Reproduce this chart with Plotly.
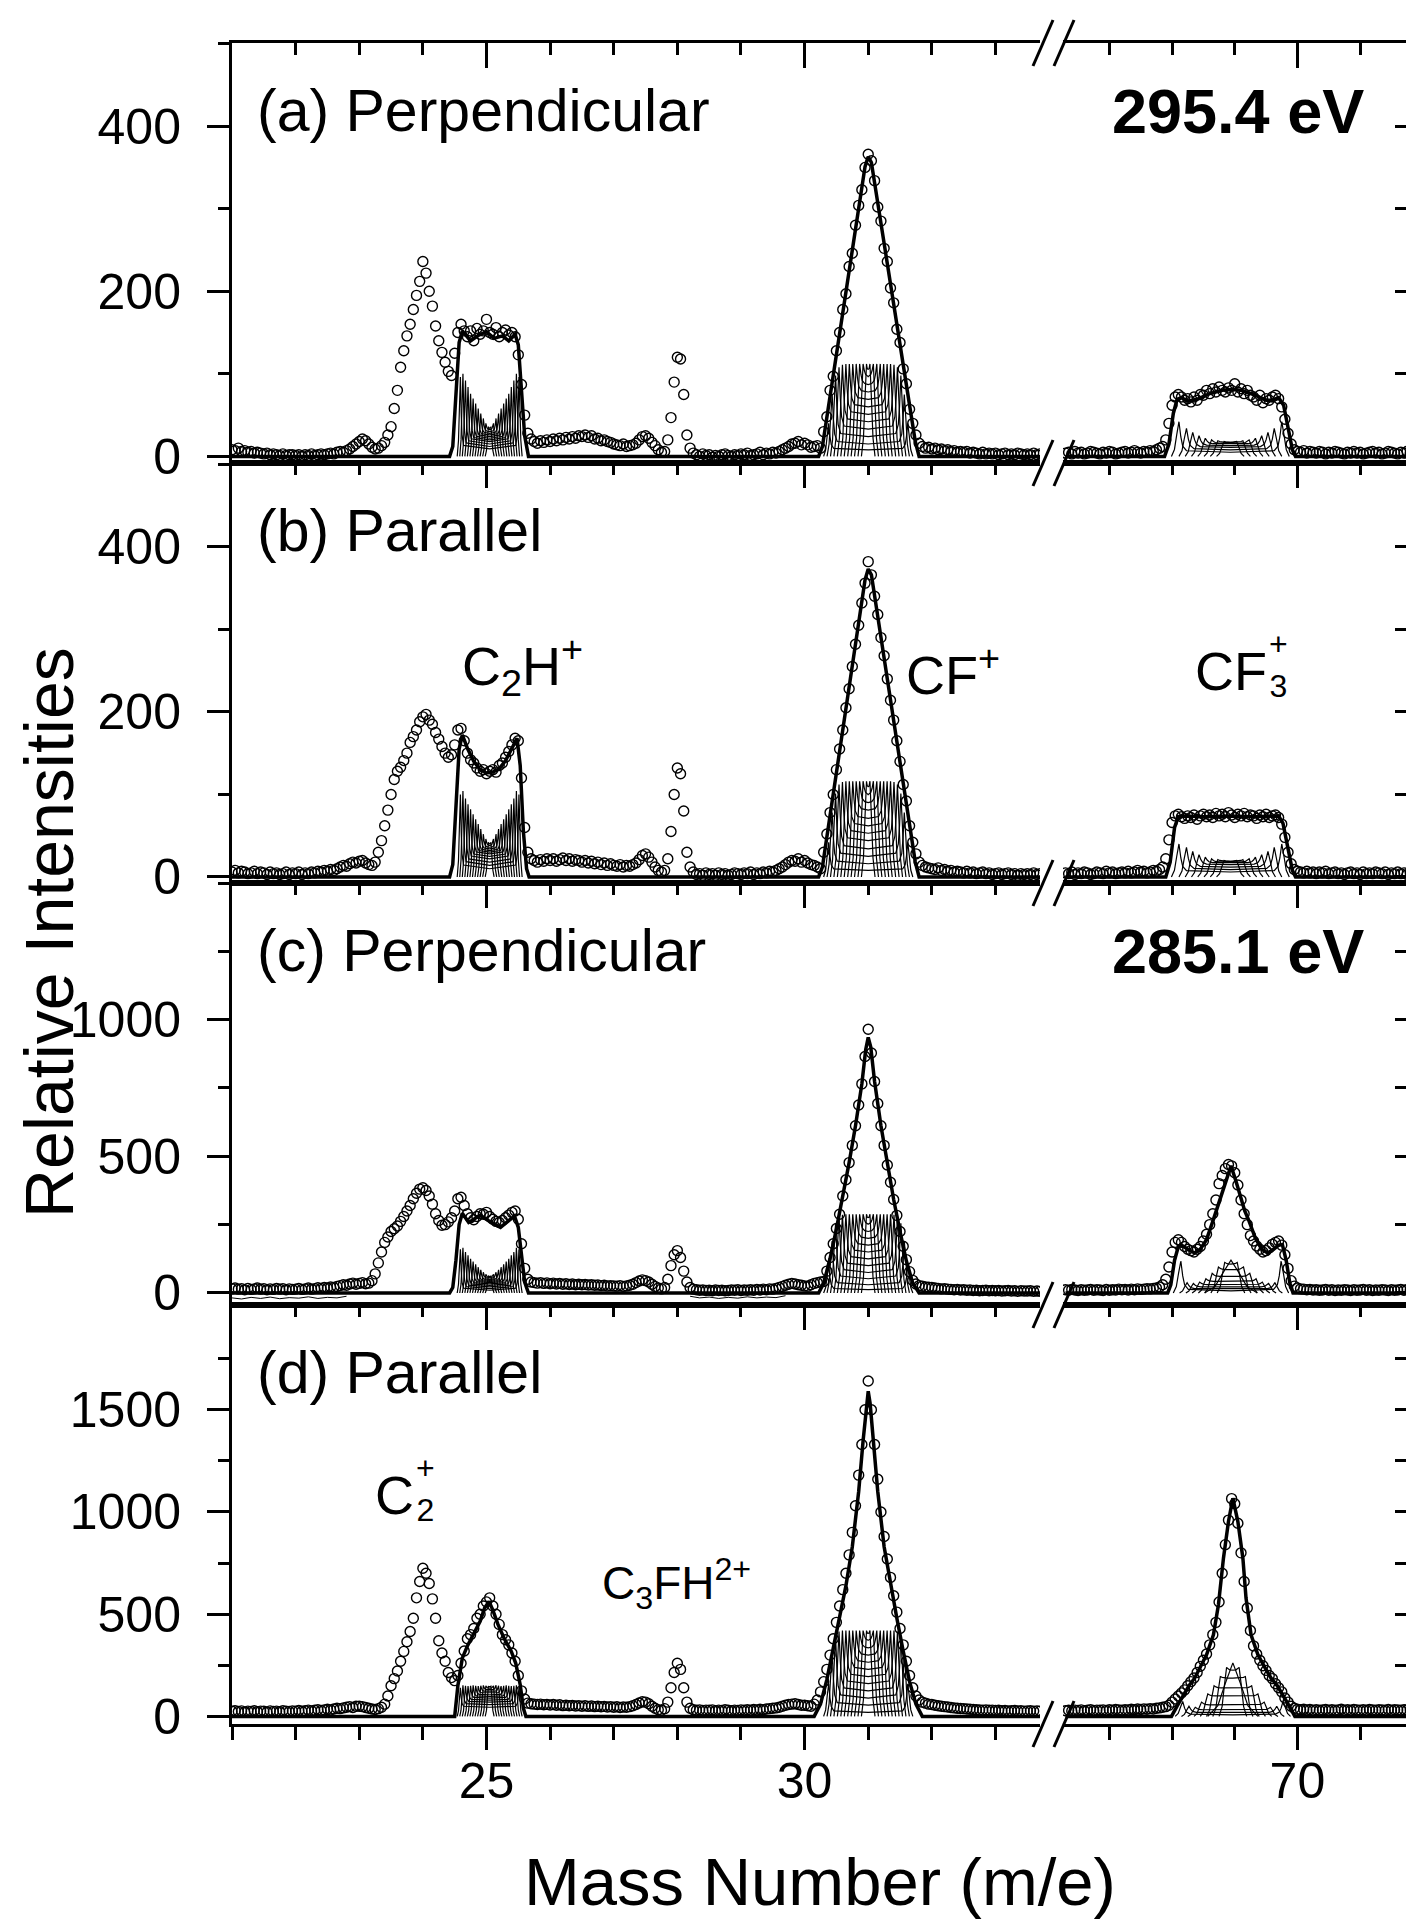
import numpy as np
import plotly.graph_objects as go

FONT = "Liberation Sans, Arial, sans-serif"

# ---------------- sampling grid (mass axis of the measured spectra) ----------------
left_start, right_start, step = 21.0, 66.30, 0.05

# ---------------- measured spectra (open circles) ----------------
a_left = [8,7,10,6,7,5,6,4,5,4, 3,4,2,3,2,1,3,1,2,2, 1,2,0,2,1,3,1,2,3,2, 3,4,3,5,6,5,7,9,12,15,
          18,21,19,15,11,9,10,13,17,26, 36,58,80,108,128,146,160,178,195,212, 236,222,200,182,158,140,126,114,103,98,
          125,150,160,152,145,152,140,155,148,152, 166,150,148,156,145,150,153,147,150,145, 123,87,50,28,21,18,16,19,17,20,
          18,21,19,22,20,23,21,24,22,25, 24,26,23,25,21,22,19,20,18,17, 15,14,13,15,12,13,14,16,20,24,
          25,22,17,13,8,5,6,20,47,90, 120,118,75,26,10,4,2,0,3,1, 2,-1,1,0,2,3,1,0,2,1, 3,2,4,1,2,3,5,2,4,3,
          5,4,6,8,10,12,15,16,18,14, 16,14,11,12,13,10,30,48,80,97, 128,150,178,197,230,246,280,304,323,350,
          366,358,334,302,285,252,236,204,186,154, 138,106,88,57,40,26,16,12,10,11, 9,10,8,9,7,8,6,7,5,6,
          5,6,4,5,4,3,5,3,4,3, 4,2,3,4,2,3,2,4,3,2, 3,2,4,2,3]
a_right = [4,5,3,6,4,5,3,4,6,5, 4,3,5,4,6,5,3,4,5,6, 4,5,7,5,4,6,5,7,6,8, 10,12,20,40,62,72,75,72,68,70,
           66,72,68,75,74,80,76,82,78,84, 80,78,83,80,88,78,82,76,80,74, 72,68,74,65,70,68,72,74,70,60,
           45,28,15,8,6,5,7,4,6,5, 4,6,5,3,5,4,6,5,4,3, 5,4,6,4,5,3,4,5,6,4, 5,3,4,6,5,4,3,5,4,6, 4,5]

b_left = [6,8,5,7,6,4,5,7,4,6, 5,3,6,4,5,3,4,6,3,5, 4,6,3,5,4,6,5,7,6,8, 7,9,8,10,12,14,13,16,18,17,
          19,20,17,15,14,18,30,44,62,81, 100,118,128,133,141,150,163,170,178,188, 194,197,190,185,175,167,158,150,145,148,
          160,178,180,165,150,142,138,132,128,130, 125,128,130,127,135,138,145,152,160,168, 165,120,60,30,22,20,18,21,19,22,
          20,22,19,21,23,20,22,19,21,20, 18,20,17,19,16,18,15,17,14,16, 14,13,15,12,14,13,15,17,21,26,
          28,24,18,12,8,6,8,22,55,100, 132,125,80,30,12,6,3,4,2,5, 3,4,2,5,3,4,2,3,5,4, 3,5,4,6,3,5,4,6,5,7,
          6,8,10,12,15,18,20,19,22,18, 20,17,15,14,12,10,30,52,78,100, 130,155,178,205,228,255,282,305,332,356,
          382,366,340,318,290,268,240,214,190,165, 140,112,92,62,42,28,18,14,12,11, 10,9,11,8,9,7,8,6,7,6,
          5,7,5,6,4,5,6,4,5,3, 4,5,3,4,5,3,4,2,4,3, 4,3,5,3,4]
b_right = [5,4,6,3,5,4,6,5,3,4, 6,5,4,7,5,6,4,5,6,5, 7,5,6,8,6,7,5,6,8,7, 9,12,22,45,66,74,76,73,71,74,
           72,75,70,74,76,73,75,72,77,74, 76,73,78,75,72,76,74,77,73,75, 74,71,75,73,76,72,74,75,72,64,
           48,30,16,9,7,6,5,7,5,6, 4,6,5,7,4,5,6,4,5,3, 5,6,4,5,3,6,4,5,4,6, 5,4,6,3,5,4,6,4,5,3, 5,4]

c_left = [15,18,14,16,12,17,13,15,18,14, 16,12,15,13,17,14,16,12,15,13, 14,17,13,15,18,14,16,19,17,20, 18,22,20,24,27,30,28,33,36,32,
          35,38,34,36,45,70,110,150,185,205, 225,235,245,262,280,300,320,345,365,380, 385,375,355,325,290,265,248,250,260,275,
          300,345,350,320,290,275,268,280,290,288, 295,280,270,262,258,265,275,285,295,300, 270,180,90,50,40,38,36,38,35,37,
          34,36,33,35,32,34,31,33,30,32, 30,31,29,30,28,29,27,28,26,27, 26,25,27,24,26,28,32,38,44,48,
          45,40,32,24,18,15,20,50,100,140, 155,130,80,40,20,14,12,10,11,9, 10,8,11,9,10,8,9,11,10,12, 9,11,10,12,10,13,11,14,12,15,
          14,17,20,24,28,32,35,33,30,28, 26,25,30,35,38,40,42,80,130,180, 236,288,355,414,477,540,612,688,765,865,
          965,878,774,693,612,540,468,405,342,284, 225,171,122,78,46,33,27,25,22,21, 20,18,17,15,16,14,13,12,13,11,
          12,10,11,9,10,8,9,10,8,9, 8,9,7,8,9,7,8,6,8,7, 7,8,6,7,6]
c_right = [12,10,13,11,9,12,10,11,13,10, 12,11,9,13,10,12,11,14,12,13, 11,14,12,15,13,14,16,15,17,18, 22,30,50,95,150,185,195,185,170,160,
           155,150,160,170,190,215,250,290,340,400, 430,455,470,465,440,395,340,290,250,210, 190,172,160,150,155,165,178,185,190,175,
           140,90,45,25,18,15,14,12,13,11, 12,10,11,13,10,12,9,11,10,12, 11,9,12,10,11,13,10,12,9,11, 10,12,11,9,12,10,11,13,10,12, 11,10]
c_bg_x = [21.0,21.15,21.3,21.45,21.6,21.75,21.9,22.05,22.2,22.35,22.5,22.65,22.8, None,
          28.2,28.35,28.5,28.65,28.8,28.95,29.1,29.25,29.4,29.55,29.7]
c_bg_y = [-18,-22,-16,-20,-15,-21,-17,-19,-14,-20,-16,-18,-12, None,
          -12,-18,-15,-20,-16,-19,-14,-18,-15,-17,-10]

d_left = [25,28,24,27,22,26,24,28,23,26, 25,22,27,24,26,23,28,25,24,27, 26,29,25,28,31,27,30,33,29,32, 35,32,36,40,38,42,45,48,44,50,
          50,48,44,40,36,34,38,45,60,100, 150,185,222,270,318,365,415,480,580,660, 725,700,650,575,480,370,310,270,215,190,
          175,200,260,320,380,400,430,480,500,540, 560,580,540,500,450,400,375,350,310,270, 200,125,85,65,62,60,58,60,57,59,
          56,58,55,57,53,55,52,54,51,53, 50,52,49,51,48,50,47,49,46,48, 45,47,44,46,45,48,52,58,66,72,
          70,62,50,40,33,30,38,70,140,215, 260,230,140,70,40,33,30,32,29,31, 30,32,28,31,29,33,30,28,31,29, 32,30,33,31,34,32,35,33,36,38,
          40,42,45,50,55,58,60,62,58,55, 55,52,50,60,80,120,170,230,300,380, 460,540,620,700,790,900,1030,1180,1330,1500,
          1640,1500,1330,1160,1000,880,770,680,590,510, 430,350,270,200,140,100,80,70,65,60, 58,55,52,50,48,46,44,42,40,39,
          38,36,35,34,33,32,31,32,30,31, 29,30,28,29,27,28,29,27,28,26, 27,28,26,27,26]
d_right = [28,30,27,31,29,32,28,30,33,29, 31,30,32,29,33,31,34,32,30,33, 32,35,33,36,34,37,35,38,36,40, 42,45,48,55,70,85,100,115,130,150,
           170,188,215,245,275,305,350,400,460,560, 700,840,960,1065,1040,945,800,660,530,420, 345,305,275,248,225,200,185,160,140,120,
           90,70,50,40,35,33,35,32,34,31, 33,30,32,34,31,33,30,32,35,31, 33,30,34,32,31,33,30,34,32,31, 33,32,30,34,31,33,32,30,33,31, 32,30]

# ---------------- fitted envelopes (thick lines) ----------------
a_fitL_x = [21.0,24.42,24.47,24.52,24.57,24.62,24.75,24.88,25.0,25.12,25.25,25.35,25.45,25.5,25.55,25.6,25.66,30.22,30.28,30.95,31.0,31.05,31.74,31.8,33.7]
a_fitL_y = [0,0,12,70,138,152,140,147,151,143,146,140,148,135,80,25,0,0,12,351,363,356,18,0,0]
a_fitR_x = [66.3,67.88,67.95,68.02,68.08,68.15,68.25,68.4,68.6,68.8,68.95,69.1,69.3,69.5,69.6,69.7,69.78,69.85,69.92,69.97,71.86]
a_fitR_y = [0,0,15,52,69,71,67,69,76,80,81,80,75,68,68,71,62,32,8,0,0]

b_fitL_x = [21.0,24.42,24.47,24.52,24.57,24.62,24.7,24.8,24.9,25.0,25.1,25.2,25.3,25.4,25.48,25.53,25.58,25.63,25.67,30.22,30.28,30.95,31.0,31.05,31.74,31.8,33.7]
b_fitL_y = [0,0,15,80,155,172,156,140,130,126,127,131,141,156,168,135,55,10,0,0,12,360,373,366,18,0,0]
b_fitR_x = [66.3,67.9,67.97,68.04,68.1,68.2,68.5,68.9,69.3,69.6,69.7,69.77,69.85,69.92,69.97,71.86]
b_fitR_y = [0,0,18,60,73,74,73,74,73,74,74,65,33,8,0,0]

c_fitL_x = [21.0,24.42,24.47,24.52,24.57,24.62,24.72,24.9,25.05,25.22,25.35,25.44,25.5,25.55,25.6,25.66,
            30.22,30.3,30.4,30.5,30.6,30.7,30.8,30.9,30.96,31.0,31.04,31.1,31.2,31.3,31.4,31.5,31.6,31.7,31.8,33.7]
c_fitL_y = [0,0,20,120,250,292,258,284,262,240,265,282,240,130,40,0,
            0,36,126,234,351,477,612,765,890,935,900,774,612,468,342,225,117,36,0,0]
c_fitR_x = [66.3,67.93,67.98,68.04,68.1,68.14,68.25,68.36,68.45,68.55,68.65,68.72,68.78,68.86,68.94,69.02,69.1,69.16,69.23,69.33,69.43,69.53,69.62,69.7,69.76,69.82,69.88,69.93,71.86]
c_fitR_y = [0,0,30,120,170,177,160,146,160,195,262,310,348,409,465,409,348,300,262,200,160,146,160,175,177,120,35,0,0]

d_fitL_x = [21.0,24.5,24.55,24.62,24.7,24.76,24.83,24.9,24.97,25.04,25.1,25.18,25.28,25.39,25.46,25.53,25.58,25.62,
            30.15,30.25,30.35,30.45,30.55,30.65,30.75,30.85,30.92,30.97,31.0,31.03,31.08,31.15,31.25,31.35,31.45,31.55,31.65,31.75,31.85,33.7]
d_fitL_y = [0,0,150,285,345,383,430,465,530,562,520,450,380,318,260,155,40,0,
            0,60,180,330,480,640,830,1100,1350,1530,1590,1530,1350,1100,830,650,480,320,170,60,0,0]
d_fitR_x = [66.3,67.99,68.08,68.18,68.27,68.36,68.45,68.55,68.66,68.74,68.82,68.9,68.97,69.05,69.13,69.18,69.26,69.37,69.48,69.58,69.68,69.77,69.87,69.96,71.86]
d_fitR_y = [0,0,50,106,150,187,240,301,399,546,774,953,1067,953,774,579,399,301,240,187,150,106,50,0,0]

# ---------------- fit components (thin lines): centre, widths, half-separations, horn and middle heights ----------------
D12 = [0.02,0.06,0.10,0.14,0.18,0.22,0.26,0.30,0.34,0.38,0.42,0.46]
DCF = [0.027,0.081,0.135,0.189,0.243,0.297,0.351,0.405,0.459,0.513,0.567,0.621]
D8 = [0.1,0.2,0.3,0.4,0.5,0.6,0.7,0.82]
D9 = [0.0,0.1,0.2,0.3,0.4,0.5,0.6,0.7,0.8]

a_c2h = dict(c=25.05, w=0.05, d=D12, h=[36,40,46,52,58,64,70,76,84,92,100,96], m=[34,32,30,28,26,24,22,20,18,15,12,9])
a_cf = dict(c=31.0, w=0.08, d=DCF, h=[112,112,112,112,112,112,112,111,108,98,75,40], m=[105,96,87,78,69,60,51,42,33,24,15,8])
a_cf3 = dict(c=68.93, w=0.12, d=D8, h=[18,19,20,22,25,29,34,42], m=[17,17,16,15,13,11,8,5])

b_c2h = dict(c=25.05, w=0.05, d=D12, h=[42,46,52,58,64,70,76,82,88,95,104,100], m=[40,38,36,34,32,30,28,25,22,18,14,10])
b_cf = dict(c=31.0, w=0.08, d=DCF, h=[116,116,116,116,116,116,116,115,112,101,78,42], m=[109,99,90,81,71,62,53,44,34,25,16,8])
b_cf3 = dict(c=68.93, w=0.12, d=D8, h=[20,21,22,24,27,31,36,40], m=[19,19,18,17,15,12,9,6])

c_c2h = dict(c=25.05, w=0.05, d=D12, h=[62,68,76,85,95,105,115,125,138,150,165,160], m=[60,57,54,50,46,42,38,33,28,22,16,10])
c_cf = dict(c=31.0, w=0.08, d=DCF, h=[288,288,288,288,288,288,288,286,280,255,190,100], m=[275,250,225,200,175,150,125,100,75,52,30,12])
c_cf3 = dict(c=68.94, w=0.12, wd=0.42, d=D9, h=[120,112,95,72,52,40,35,38,117], m=[120,105,85,60,42,30,22,15,8])

d_c2h = dict(c=25.05, w=0.05, d=D12, h=[148,150,152,150,148,150,152,150,148,150,152,140], m=[145,138,130,122,114,106,98,90,80,70,58,45])
d_cf = dict(c=31.0, w=0.08, d=DCF, h=[420,420,420,420,420,420,420,420,415,390,310,160], m=[405,370,335,300,265,230,195,160,125,90,55,20])
d_cf3 = dict(c=68.97, w=0.12, wd=0.4, d=D9, h=[262,240,195,150,110,70,45,50,73], m=[262,225,187,139,100,56,32,18,8])

# ---------------- axis settings ----------------
y_ranges = [[-8, 500.7], [-7.3, 501.5], [-44, 1500], [-37, 2012]]
y_major = [[0, 200, 400], [0, 200, 400], [0, 500, 1000], [0, 500, 1000, 1500]]
y_minor = [[100, 300, 500], [100, 300, 500], [250, 750, 1250, 1500], [250, 750, 1250, 1750]]
x_left_range = [21.0, 33.7]
x_right_range = [66.26, 71.86]
x_left_ticks = [25, 30]
x_right_ticks = [70]

panel_titles = ["(a) Perpendicular", "(b) Parallel", "(c) Perpendicular", "(d) Parallel"]
energy_labels = {0: "295.4 eV", 2: "285.1 eV"}

panels = [
    dict(L=a_left, R=a_right, fL=(a_fitL_x, a_fitL_y), fR=(a_fitR_x, a_fitR_y), cL=[a_c2h, a_cf], cR=[a_cf3]),
    dict(L=b_left, R=b_right, fL=(b_fitL_x, b_fitL_y), fR=(b_fitR_x, b_fitR_y), cL=[b_c2h, b_cf], cR=[b_cf3]),
    dict(L=c_left, R=c_right, fL=(c_fitL_x, c_fitL_y), fR=(c_fitR_x, c_fitR_y), cL=[c_c2h, c_cf], cR=[c_cf3]),
    dict(L=d_left, R=d_right, fL=(d_fitL_x, d_fitL_y), fR=(d_fitR_x, d_fitR_y), cL=[d_c2h, d_cf], cR=[d_cf3]),
]


def comp_lines(groups):
    """Outline of each fit component: outer flank, horn, steep inner drop, flat middle."""
    xs, ys = [], []
    for g in groups:
        c, w = g["c"], g["w"]
        for d, h, m in zip(g["d"], g["h"], g["m"]):
            if d == 0:
                wd = g.get("wd", w)
                px = [c - wd, c - 0.6 * wd, c - 0.3 * wd, c, c + 0.3 * wd, c + 0.6 * wd, c + wd]
                py = [0, 0.2 * h, 0.62 * h, h, 0.62 * h, 0.2 * h, 0]
            else:
                a = min(0.25 * w, d / 4.0)
                left_x = [c - d - w, c - d - 0.6 * w, c - d - 0.3 * w, c - d, c - d + a, c - d + 2 * a, c - d + 4 * a]
                left_y = [0, 0.2 * h, 0.62 * h, h, m + 0.5 * (h - m), m + 0.2 * (h - m), m + 0.05 * (h - m)]
                px = left_x + [c] + [2 * c - v for v in reversed(left_x)]
                py = left_y + [m] + list(reversed(left_y))
            xs += px + [None]
            ys += py + [None]
    return xs, ys


# ---------------- layout geometry (pixels of the 1414x1919 page) ----------------
W, H = 1414, 1919
ML, MR, MT, MB = 224, 8, 35, 203
PW, PH = W - ML - MR, H - MT - MB
row_px = [35, 455, 875, 1297, 1716]
xl_end_px, xr_start_px = 1032, 1055


def px2fx(px):
    return (px - ML) / PW


def px2fy(py):
    return (H - MB - py) / PH


dom_L = [0, px2fx(xl_end_px)]
dom_R = [px2fx(xr_start_px), 1]

fig = go.Figure()
layout = dict(width=W, height=H, margin=dict(l=ML, r=MR, t=MT, b=MB),
              plot_bgcolor="white", paper_bgcolor="white", showlegend=False,
              font=dict(family=FONT, color="black", size=50))


def nm(prefix, k):
    return prefix + ("" if k == 1 else str(k))


annotations = []
TITLE_Y = 1 - 68 / 420
for r, p in enumerate(panels):
    ydom = [px2fy(row_px[r + 1]), px2fy(row_px[r])]
    for col in range(2):
        k = 2 * r + col + 1
        xr, yr = nm("x", k), nm("y", k)
        side = "L" if col == 0 else "R"
        grid_start = left_start if col == 0 else right_start
        yvals = p[side]
        xvals = np.round(grid_start + step * np.arange(len(yvals)), 3)
        cx, cy = comp_lines(p["c" + side])
        fig.add_trace(go.Scatter(x=cx, y=cy, xaxis=xr, yaxis=yr, mode="lines",
                                 line=dict(color="black", width=1.2), hoverinfo="skip"))
        if r == 2 and col == 0:
            fig.add_trace(go.Scatter(x=c_bg_x, y=c_bg_y, xaxis=xr, yaxis=yr, mode="lines",
                                     line=dict(color="black", width=1), hoverinfo="skip"))
        fig.add_trace(go.Scatter(x=xvals, y=yvals, xaxis=xr, yaxis=yr, mode="markers",
                                 marker=dict(symbol="circle-open", size=10, color="black",
                                             line=dict(width=1.4, color="black"))))
        fx, fy = p["f" + side]
        fig.add_trace(go.Scatter(x=fx, y=fy, xaxis=xr, yaxis=yr, mode="lines",
                                 line=dict(color="black", width=3.5)))

        xa = dict(domain=dom_L if col == 0 else dom_R,
                  range=x_left_range if col == 0 else x_right_range,
                  anchor=yr, side="top", ticks="inside",
                  tickvals=x_left_ticks if col == 0 else x_right_ticks,
                  ticklen=25, tickwidth=3, tickcolor="black",
                  minor=dict(dtick=1, tick0=21, ticks="inside", ticklen=12, tickwidth=3, tickcolor="black"),
                  showticklabels=False, showline=True, linewidth=3, linecolor="black",
                  mirror=True, showgrid=False, zeroline=False)
        ya = dict(domain=ydom, range=y_ranges[r], anchor=xr,
                  tickvals=y_major[r], showgrid=False, zeroline=False,
                  showline=True, linewidth=3, linecolor="black", tickwidth=3, tickcolor="black")
        if col == 0:
            ya.update(side="left", ticks="outside", ticklen=22,
                      minor=dict(tickvals=y_minor[r], ticks="outside", ticklen=11, tickwidth=3, tickcolor="black"),
                      tickfont=dict(size=50, family=FONT), ticklabelstandoff=16)
        else:
            ya.update(side="right", ticks="inside", ticklen=19, showticklabels=False,
                      minor=dict(tickvals=y_minor[r], ticks="inside", ticklen=19, tickwidth=3, tickcolor="black"))
        layout[nm("xaxis", k)] = xa
        layout[nm("yaxis", k)] = ya

    # panel titles
    annotations.append(dict(text=panel_titles[r], x=21.36, xref=nm("x", 2 * r + 1),
                            y=TITLE_Y, yref=nm("y", 2 * r + 1) + " domain",
                            xanchor="left", yanchor="middle", showarrow=False,
                            font=dict(size=59, family=FONT)))
    if r in energy_labels:
        annotations.append(dict(text="<b>" + energy_labels[r] + "</b>", x=71.09, xref=nm("x", 2 * r + 2),
                                y=TITLE_Y, yref=nm("y", 2 * r + 2) + " domain",
                                xanchor="right", yanchor="middle", showarrow=False,
                                font=dict(size=63, family=FONT)))

# bottom axes with labels (panel d)
for k, base, rng, tv in [(9, "x7", x_left_range, x_left_ticks), (10, "x8", x_right_range, x_right_ticks)]:
    layout["xaxis%d" % k] = dict(overlaying=base, anchor="y7" if k == 9 else "y8", side="bottom",
                                 range=rng, matches=base, ticks="outside", tickvals=tv,
                                 ticktext=[str(t) for t in tv], ticklen=23, tickwidth=3, tickcolor="black",
                                 minor=dict(dtick=1, tick0=21, ticks="outside", ticklen=13, tickwidth=3, tickcolor="black"),
                                 showline=True, linewidth=3, linecolor="black", showgrid=False, zeroline=False,
                                 tickfont=dict(size=50, family=FONT), ticklabelstandoff=-12)
    fig.add_trace(go.Scatter(x=[], y=[], xaxis="x%d" % k, yaxis="y7" if k == 9 else "y8", mode="markers"))

# species labels
LBL = 54
annotations += [
    dict(text="C<sub>2</sub>H<sup>+</sup>", x=25.56, y=255, xref="x3", yref="y3", showarrow=False,
         xanchor="center", yanchor="middle", font=dict(size=LBL, family=FONT)),
    dict(text="CF<sup>+</sup>", x=32.34, y=249, xref="x3", yref="y3", showarrow=False,
         xanchor="center", yanchor="middle", font=dict(size=LBL, family=FONT)),
    dict(text="CF", x=68.33, y=249, xref="x4", yref="y4", showarrow=False,
         xanchor="left", yanchor="middle", font=dict(size=LBL, family=FONT)),
    dict(text="+<br>3", x=68.33, y=249, xref="x4", yref="y4", showarrow=False, xshift=74, yshift=6,
         xanchor="left", yanchor="middle", font=dict(size=32, family=FONT)),
    dict(text="C", x=23.22, y=1082, xref="x7", yref="y7", showarrow=False,
         xanchor="left", yanchor="middle", font=dict(size=LBL, family=FONT)),
    dict(text="+<br>2", x=23.22, y=1082, xref="x7", yref="y7", showarrow=False, xshift=41, yshift=6,
         xanchor="left", yanchor="middle", font=dict(size=32, family=FONT)),
    dict(text="C<sub>3</sub>FH<sup>2+</sup>", x=27.98, y=650, xref="x7", yref="y7", showarrow=False,
         xanchor="center", yanchor="middle", font=dict(size=46, family=FONT)),
]

# axis titles
annotations += [
    dict(text="Relative Intensities", x=px2fx(41), y=px2fy(925), xref="paper", yref="paper",
         textangle=-90, showarrow=False, font=dict(size=68, family=FONT), xanchor="center", yanchor="middle"),
    dict(text="Mass Number (m/e)", x=px2fx(812), y=px2fy(1874), xref="paper", yref="paper",
         showarrow=False, font=dict(size=67, family=FONT), xanchor="center", yanchor="middle"),
]
layout["annotations"] = annotations

# axis-break marks "//" at each horizontal frame line
shapes = []
for py in row_px:
    for cxp in (xl_end_px + 3, xr_start_px + 1):
        shapes.append(dict(type="line", xref="paper", yref="paper",
                           x0=px2fx(cxp - 10), y0=px2fy(py + 23), x1=px2fx(cxp + 10), y1=px2fy(py - 23),
                           line=dict(color="black", width=3)))
layout["shapes"] = shapes

fig.update_layout(**layout)
fig.write_html("out.html")
